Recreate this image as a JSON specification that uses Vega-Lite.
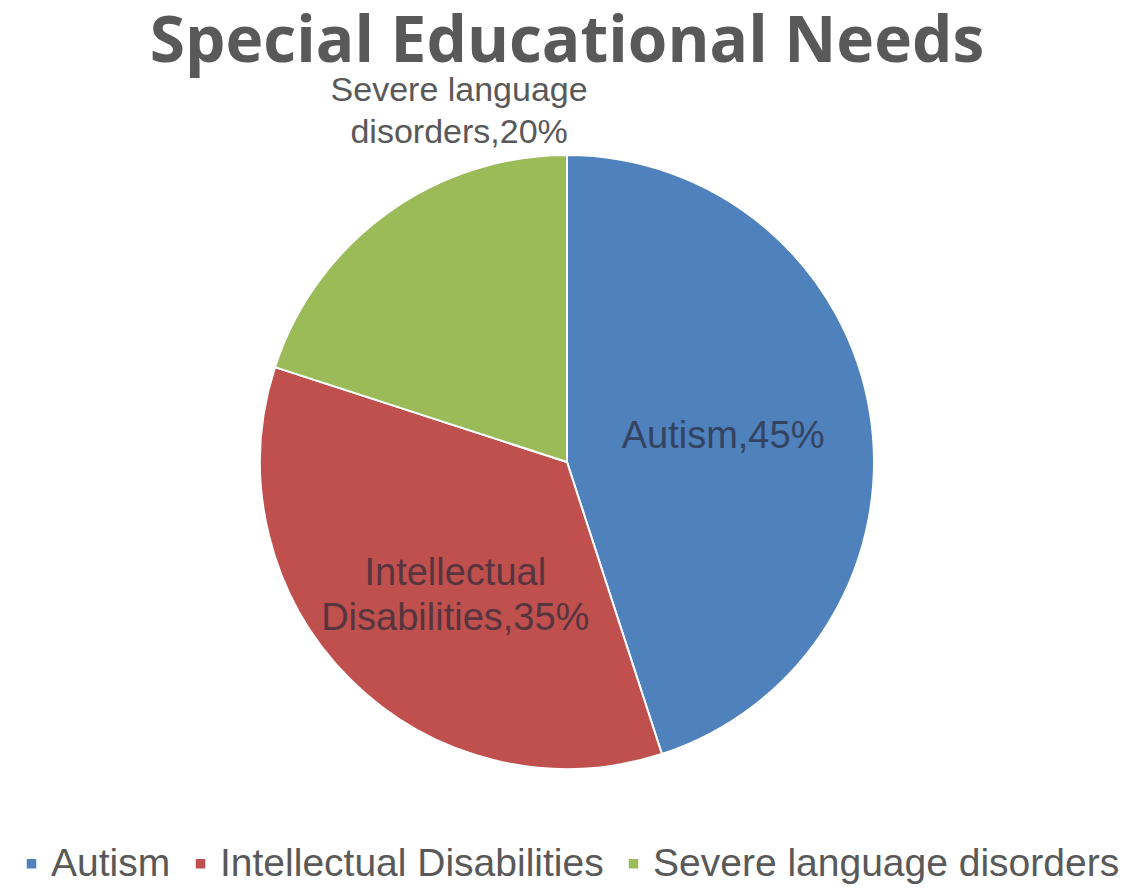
{
  "$schema": "https://vega.github.io/schema/vega-lite/v6.json",
  "width": 1134,
  "height": 852,
  "autosize": {"type": "none"},
  "padding": {"top": 36, "left": 0, "right": 0, "bottom": 0},
  "background": "white",
  "title": {
    "text": "Special Educational Needs",
    "font": "Open Sans",
    "fontWeight": "bold",
    "fontSize": 64,
    "color": "#595959",
    "anchor": "middle",
    "baseline": "alphabetic",
    "offset": 0,
    "dy": 90
  },
  "data": {
    "values": [
      {"cat": "Autism", "value": 45, "order": 1, "label": "Autism,45%"},
      {"cat": "Intellectual Disabilities", "value": 35, "order": 2, "label": "Intellectual\nDisabilities,35%"},
      {"cat": "Severe language disorders", "value": 20, "order": 3, "label": "Severe language\ndisorders,20%"}
    ]
  },
  "encoding": {
    "theta": {"field": "value", "type": "quantitative", "stack": true},
    "order": {"field": "order", "type": "quantitative"},
    "color": {
      "field": "cat",
      "type": "nominal",
      "sort": ["Autism", "Intellectual Disabilities", "Severe language disorders"],
      "scale": {
        "domain": ["Autism", "Intellectual Disabilities", "Severe language disorders"],
        "range": ["#4F81BD", "#C0504D", "#9BBB59"]
      },
      "legend": {
        "orient": "none",
        "direction": "horizontal",
        "legendX": 12,
        "legendY": 808,
        "padding": 0,
        "title": null,
        "labelFont": "Liberation Sans",
        "labelFontSize": 39,
        "labelColor": "#595959",
        "labelLimit": 0,
        "symbolType": "square",
        "symbolSize": 90,
        "symbolStrokeWidth": 0,
        "labelOffset": 0,
        "columnPadding": 10
      }
    }
  },
  "layer": [
    {
      "mark": {"type": "arc", "outerRadius": 307, "stroke": "white", "strokeWidth": 2}
    },
    {
      "mark": {
        "type": "text",
        "radius": 158,
        "font": "Liberation Sans",
        "fontSize": 38,
        "lineBreak": "\n",
        "lineHeight": 45,
        "align": "center",
        "baseline": "middle",
        "opacity": 0.7
      },
      "encoding": {
        "text": {
          "condition": {"test": "datum.cat !== 'Severe language disorders'", "field": "label"},
          "value": ""
        },
        "color": {"value": "#2a2a3a"}
      }
    },
    {
      "mark": {
        "type": "text",
        "radius": 369,
        "dx": 109,
        "dy": -72,
        "font": "Liberation Sans",
        "fontSize": 34,
        "lineBreak": "\n",
        "lineHeight": 42,
        "align": "center",
        "baseline": "middle"
      },
      "encoding": {
        "text": {
          "condition": {"test": "datum.cat === 'Severe language disorders'", "field": "label"},
          "value": ""
        },
        "color": {"value": "#595959"}
      }
    }
  ]
}
